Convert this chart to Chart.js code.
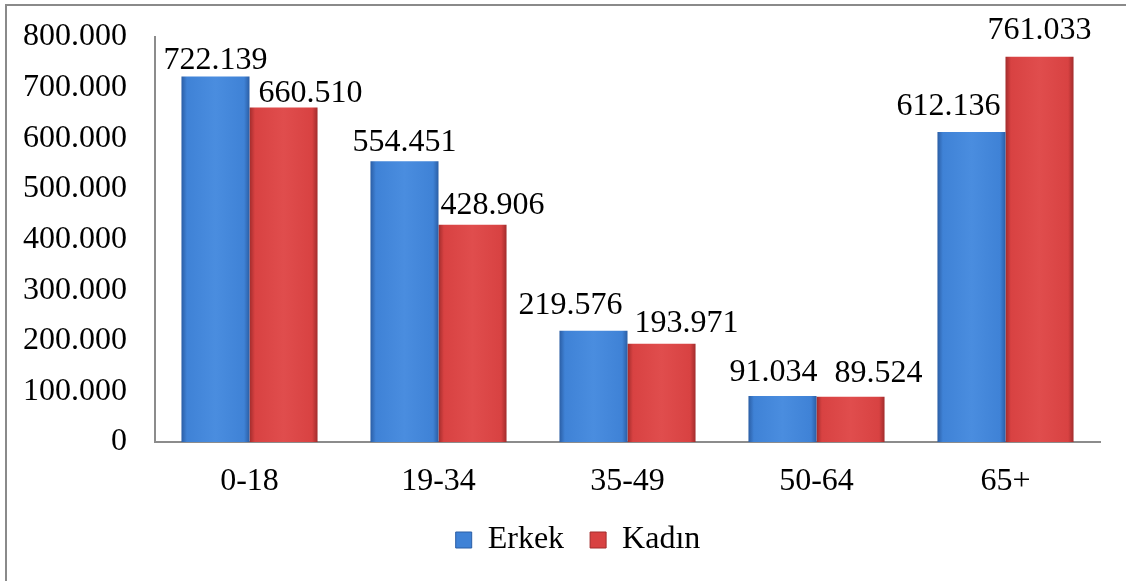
<!DOCTYPE html>
<html>
<head>
<meta charset="utf-8">
<script src="https://cdn.jsdelivr.net/npm/chart.js@4/dist/chart.umd.min.js"></script>
<style>
  html, body { margin: 0; padding: 0; background: #fff; }
  #wrap { position: relative; width: 1126px; height: 581px; overflow: hidden; }
  #frame { position: absolute; left: 5px; top: 4px; width: 1200px; height: 700px;
           border-left: 2px solid #8a8a8a; border-top: 2px solid #8a8a8a; }
  canvas { position: absolute; left: 0; top: 0; }
</style>
</head>
<body>
<div id="wrap">
  <div id="frame"></div>
  <canvas id="c" width="1126" height="581"></canvas>
</div>
<script>
const categories = ['0-18', '19-34', '35-49', '50-64', '65+'];
const erkek = [722139, 554451, 219576, 91034, 612136];
const kadin = [660510, 428906, 193971, 89524, 761033];
const seriesNames = ['Erkek', 'Kadın'];
const yTicks = [0, 100000, 200000, 300000, 400000, 500000, 600000, 700000, 800000];

// value-label nudges (px) as placed in the original to avoid overlaps
const labelShiftX = [[0, 0, -23, -9, -23], [27, 20, 25, 28, 0]];
const labelGapY = [[7, 10, 17, 15, 17], [6, 11, 12, 15, 18]];

const FONT = "'Liberation Serif', 'Times New Roman', serif";
const FS = 32;
function fmt(v) {
  return String(Math.round(v)).replace(/\B(?=(\d{3})+(?!\d))/g, '.');
}

const palette = [
  { edge: '#2b5ea5', mid: '#3f82d6', light: '#4a8ddf' },
  { edge: '#a22c2c', mid: '#d84242', light: '#e04d4d' }
];

const shadePlugin = {
  id: 'shade',
  afterLayout(chart) {
    // the original legend sits a little right of the canvas centre
    chart.legend.left += 28;
    chart.legend.right += 28;
  },
  beforeDatasetsDraw(chart) {
    const ctx = chart.ctx;
    chart.data.datasets.forEach((ds, di) => {
      const meta = chart.getDatasetMeta(di);
      const p = palette[di];
      meta.data.forEach(el => {
        const { x, width } = el.getProps(['x', 'width'], true);
        const g = ctx.createLinearGradient(x - width / 2, 0, x + width / 2, 0);
        g.addColorStop(0, p.edge);
        g.addColorStop(0.08, p.mid);
        g.addColorStop(0.5, p.light);
        g.addColorStop(0.92, p.mid);
        g.addColorStop(1, p.edge);
        el.options.backgroundColor = g;
      });
    });
  }
};

const labelPlugin = {
  id: 'valueLabels',
  afterDatasetsDraw(chart) {
    const ctx = chart.ctx;
    ctx.save();
    ctx.font = FS + 'px ' + FONT;
    ctx.fillStyle = '#000';
    ctx.textAlign = 'center';
    ctx.textBaseline = 'alphabetic';
    chart.data.datasets.forEach((ds, di) => {
      const meta = chart.getDatasetMeta(di);
      meta.data.forEach((el, i) => {
        const { x, y } = el.getProps(['x', 'y'], true);
        ctx.fillText(fmt(ds.data[i]), x + labelShiftX[di][i], y - labelGapY[di][i]);
      });
    });
    ctx.restore();
  }
};

new Chart(document.getElementById('c'), {
  type: 'bar',
  data: {
    labels: categories,
    datasets: [
      { label: seriesNames[0], data: erkek, backgroundColor: () => palette[0].mid, borderWidth: 0 },
      { label: seriesNames[1], data: kadin, backgroundColor: () => palette[1].mid, borderWidth: 0 }
    ]
  },
  options: {
    responsive: false,
    animation: false,
    events: [],
    layout: { padding: { top: 37, right: 26, left: 0, bottom: 15 } },
    datasets: { bar: { categoryPercentage: 0.72, barPercentage: 1 } },
    scales: {
      x: {
        afterFit(scale) { scale.height = 56; },
        grid: { display: false, drawTicks: false },
        border: { display: true, color: '#8c8c8c', width: 2 },
        ticks: { color: '#000', font: { family: FONT, size: FS }, padding: 20 }
      },
      y: {
        min: 0, max: 800000,
        afterBuildTicks(scale) { scale.ticks = yTicks.map(v => ({ value: v })); },
        afterFit(scale) { scale.width = 155; scale.paddingTop = 0; scale.paddingBottom = 0; },
        grid: { display: false, drawTicks: false },
        border: { display: true, color: '#8c8c8c', width: 2 },
        ticks: { color: '#000', font: { family: FONT, size: FS }, padding: 28,
                 callback: v => fmt(v) }
      }
    },
    plugins: {
      legend: {
        position: 'bottom',
        labels: {
          color: '#000',
          font: { family: FONT, size: FS },
          boxWidth: 16, boxHeight: 16, padding: 26,
          generateLabels(chart) {
            return chart.data.datasets.map((ds, i) => ({
              text: ds.label, fillStyle: palette[i].mid, strokeStyle: palette[i].edge,
              lineWidth: 1, hidden: false, datasetIndex: i
            }));
          }
        }
      },
      tooltip: { enabled: false }
    }
  },
  plugins: [shadePlugin, labelPlugin]
});
</script>
</body>
</html>
